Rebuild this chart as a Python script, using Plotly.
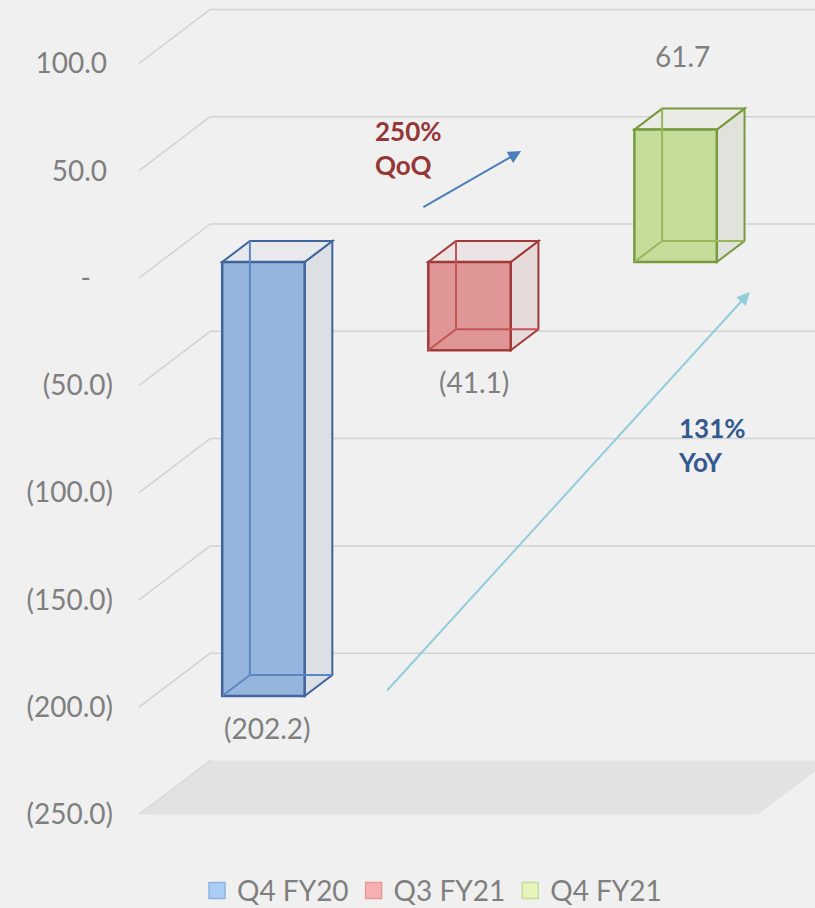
import plotly.graph_objects as go

# ---------------- data ----------------
categories = ["Q4 FY20", "Q3 FY21", "Q4 FY21"]
values = [-202.2, -41.1, 61.7]
value_labels = ["(202.2)", "(41.1)", "61.7"]
tick_values = [100, 50, 0, -50, -100, -150, -200, -250]
tick_labels = ["100.0", "50.0", "-", "(50.0)", "(100.0)", "(150.0)", "(200.0)", "(250.0)"]
qoq_text = "250%<br>QoQ"
yoy_text = "131%<br>YoY"

# ---------------- style ----------------
FONT = "Lato"
GRAY = "#7f7f7f"
BG = "#f0f0f0"
front_fill = ["#96b5dc", "#e09696", "#c5dd9a"]
edge_col = ["#3f659c", "#a33a3a", "#789a3e"]
inner_col = ["#5b86c2", "#c25454", "#98b65a"]
side_fill = ["#dcdfe4", "#e6dada", "#e1e2dc"]
top_fill = ["#e7e9ed", "#ece4e4", "#e9ebe4"]
legend_fill = ["#aacdf5", "#f9b0b0", "#e6f5ba"]
legend_edge = ["#8eb2de", "#e49a9a", "#c8dc9a"]

# 3D projection (axis units): full depth shifts x by DX, y by DY
DX = 0.3455
DY = 25.16
D1 = 0.296   # depth of bar front faces
D2 = 0.685   # depth of bar back faces
BAR_W = 0.4
X_WALL = -0.6034   # front edge of left wall
X_FLOOR_R = 2.399  # front right corner of floor
X_RANGE = [-0.7056, 2.6764]
Y_RANGE = [-293.57, 129.54]

fig = go.Figure()
shapes = []
annotations = []

# walls: gridlines on left wall + back wall
for v in tick_values[:-1]:
    shapes.append(dict(type="line", xref="x", yref="y", x0=X_WALL, y0=v, x1=X_WALL + DX, y1=v + DY,
                       line=dict(color="#d2d2d2", width=1.5), layer="below"))
    shapes.append(dict(type="line", xref="x", yref="y", x0=X_WALL + DX, y0=v + DY, x1=X_RANGE[1] + 1, y1=v + DY,
                       line=dict(color="#d2d2d2", width=1.5), layer="below"))

# floor
fv = tick_values[-1]
shapes.append(dict(type="path", xref="x", yref="y",
                   path=f"M{X_WALL},{fv} L{X_FLOOR_R},{fv} L{X_FLOOR_R + DX},{fv + DY} L{X_WALL + DX},{fv + DY} Z",
                   fillcolor="#e2e2e2", line=dict(width=0), layer="below"))
shapes.append(dict(type="line", xref="x", yref="y", x0=X_WALL + DX, y0=fv + DY, x1=X_RANGE[1] + 1, y1=fv + DY,
                   line=dict(color="#e9e9e9", width=1.5), layer="below"))
shapes.append(dict(type="line", xref="x", yref="y", x0=X_WALL, y0=fv, x1=X_WALL + DX, y1=fv + DY,
                   line=dict(color="#d8d8d8", width=1.5), layer="below"))

base = D1 * DY
ox = (D2 - D1) * DX
oy = (D2 - D1) * DY

for i, (cat, v) in enumerate(zip(categories, values)):
    c = i
    xl, xr = c - BAR_W / 2, c + BAR_W / 2
    top = base + max(0, v)
    bot = base + min(0, v)
    # side face
    shapes.append(dict(type="path", xref="x", yref="y",
                       path=f"M{xr},{bot} L{xr},{top} L{xr + ox},{top + oy} L{xr + ox},{bot + oy} Z",
                       fillcolor=side_fill[i], line=dict(color=edge_col[i], width=2), layer="below"))
    # top face
    shapes.append(dict(type="path", xref="x", yref="y",
                       path=f"M{xl},{top} L{xl + ox},{top + oy} L{xr + ox},{top + oy} L{xr},{top} Z",
                       fillcolor=top_fill[i], line=dict(color=edge_col[i], width=2), layer="below"))
    # hidden edges seen through front face
    for (a, b, cc, d) in [(xl + ox, bot + oy, xl + ox, top + oy),
                          (xl + ox, bot + oy, xr + ox, bot + oy),
                          (xl, bot, xl + ox, bot + oy)]:
        shapes.append(dict(type="line", xref="x", yref="y", x0=a, y0=b, x1=cc, y1=d,
                           line=dict(color=inner_col[i], width=2), layer="above"))
    # front face as a real bar
    fig.add_trace(go.Bar(x=[c], y=[v], base=[base], width=BAR_W, showlegend=False,
                         marker=dict(color=front_fill[i], line=dict(color=edge_col[i], width=2.5)),
                         hoverinfo="skip"))
    # value label
    if v < 0:
        annotations.append(dict(x=c, y=bot, xref="x", yref="y", text=value_labels[i], showarrow=False,
                                yanchor="middle", yshift=-32, xshift=4,
                                font=dict(family=FONT, size=28, color=GRAY)))
    else:
        annotations.append(dict(x=c, y=top + oy, xref="x", yref="y", text=value_labels[i], showarrow=False,
                                yanchor="middle", yshift=53, xshift=7,
                                font=dict(family=FONT, size=28, color=GRAY)))

# legend-only entries
for i, cat in enumerate(categories):
    fig.add_trace(go.Scatter(x=[None], y=[None], name=cat, mode="markers",
                             marker=dict(symbol="square", size=18, color=legend_fill[i],
                                         line=dict(color=legend_edge[i], width=1.5))))

# arrows
annotations.append(dict(x=1.2506, y=59.18, ax=0.7689, ay=32.62, xref="x", yref="y", axref="x", ayref="y",
                        text="", showarrow=True, arrowhead=2, arrowsize=1.3, arrowwidth=2, arrowcolor="#4a7ebb"))
annotations.append(dict(x=2.3601, y=-6.53, ax=0.5937, ay=-192.92, xref="x", yref="y", axref="x", ayref="y",
                        text="", showarrow=True, arrowhead=2, arrowsize=1.3, arrowwidth=2, arrowcolor="#92cddc"))
annotations.append(dict(x=0.532, y=60.8, xref="x", yref="y", text=f"<b>{qoq_text}</b>", showarrow=False,
                        xanchor="left", yanchor="middle", align="left",
                        font=dict(family=FONT, size=26, color="#953735")))
annotations.append(dict(x=2.0, y=-77.8, xref="x", yref="y", text=f"<b>{yoy_text}</b>", showarrow=False,
                        xanchor="left", yanchor="middle", align="left",
                        font=dict(family=FONT, size=26, color="#34598f")))

tick_text = []
for t in tick_labels:
    if t.startswith("("):
        tick_text.append(t)
    elif t == "-":
        tick_text.append(t + "\u2007\u2008")
    else:
        tick_text.append(t + "\u2008")

fig.update_layout(
    width=815, height=908,
    margin=dict(l=118, r=0, t=0, b=0, autoexpand=False),
    paper_bgcolor=BG, plot_bgcolor=BG,
    barmode="overlay",
    shapes=shapes, annotations=annotations,
    xaxis=dict(range=X_RANGE, visible=False, fixedrange=True),
    yaxis=dict(range=Y_RANGE, tickvals=tick_values, ticktext=tick_text, showgrid=False, zeroline=False,
               showline=False, ticks="", ticklabelstandoff=4, fixedrange=True,
               tickfont=dict(family=FONT, size=28, color=GRAY)),
    legend=dict(orientation="h", xref="paper", yref="paper", x=0.4505, y=0.019,
                xanchor="center", yanchor="middle", font=dict(family=FONT, size=28, color=GRAY),
                bgcolor="rgba(0,0,0,0)", itemsizing="trace"),
    showlegend=True,
)

fig.write_html(
    "out.html",
    config={"displayModeBar": False},
    post_script="document.body.style.margin='0px';document.body.style.background='#f0f0f0';",
)
